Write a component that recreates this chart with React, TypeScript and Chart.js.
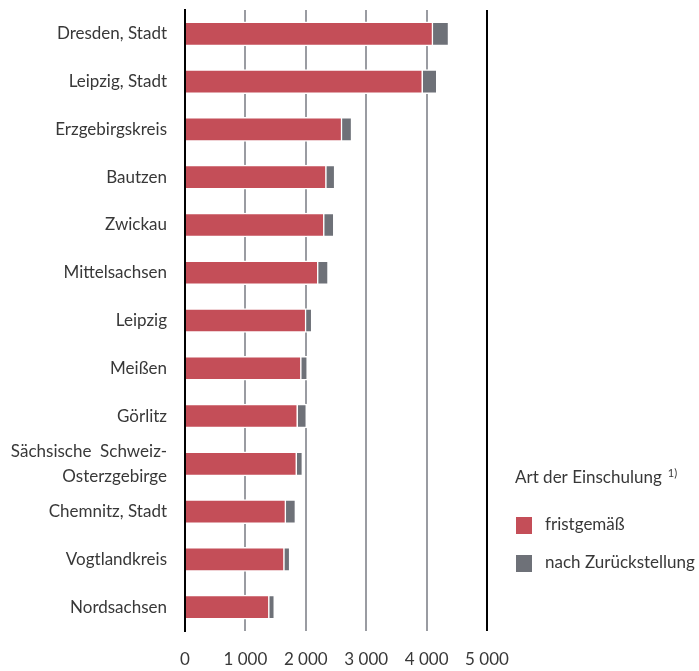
import React, { useEffect, useRef } from "react";
import { Chart, registerables } from "chart.js";

Chart.register(...registerables);

const categories: (string | string[])[] = [
  "Dresden, Stadt",
  "Leipzig, Stadt",
  "Erzgebirgskreis",
  "Bautzen",
  "Zwickau",
  "Mittelsachsen",
  "Leipzig",
  "Meißen",
  "Görlitz",
  ["Sächsische  Schweiz-", "Osterzgebirge"],
  "Chemnitz, Stadt",
  "Vogtlandkreis",
  "Nordsachsen",
];

const fristgemaess = [4105, 3935, 2600, 2340, 2305, 2205, 2005, 1925, 1865, 1850, 1670, 1645, 1395];
const nachZurueckstellung = [265, 240, 165, 145, 165, 170, 100, 105, 150, 100, 165, 95, 90];

const seriesLabels = ["fristgemäß", "nach Zurückstellung"];
const seriesColors = ["#c44e58", "#6e7178"];
const legendTitle = "Art der Einschulung";
const legendNote = "1)";
const xTickLabels = ["0", "1 000", "2 000", "3 000", "4 000", "5 000"];

const FONT = "Lato";
const TEXT = "#383838";

export default function App() {
  const ref = useRef<HTMLCanvasElement | null>(null);
  useEffect(() => {
    document.body.style.margin = "0";
    const canvas = ref.current!;
    const legendPlugin = {
      id: "customLegend",
      afterDraw(chart: any) {
        const ctx = chart.ctx;
        ctx.save();
        ctx.fillStyle = TEXT;
        ctx.textBaseline = "middle";
        ctx.textAlign = "left";
        ctx.font = `17px ${FONT}`;
        ctx.fillText(legendTitle, 515, 478);
        const w = ctx.measureText(legendTitle).width;
        ctx.font = `11px ${FONT}`;
        ctx.fillText(legendNote, 515 + w + 6, 473);
        seriesLabels.forEach((lab, i) => {
          const y = 525 + i * 38;
          ctx.fillStyle = seriesColors[i];
          ctx.fillRect(516, y - 8, 16, 17);
          ctx.fillStyle = TEXT;
          ctx.font = `17px ${FONT}`;
          ctx.fillText(lab, 545, y);
        });
        ctx.restore();
      },
    };
    const chart = new Chart(canvas, {
      type: "bar",
      data: {
        labels: categories,
        datasets: [
          {
            label: seriesLabels[0],
            data: fristgemaess,
            backgroundColor: seriesColors[0],
            borderColor: "#ffffff",
            borderWidth: 1.5,
            barThickness: 24,
          },
          {
            label: seriesLabels[1],
            data: nachZurueckstellung,
            backgroundColor: seriesColors[1],
            borderColor: "#ffffff",
            borderWidth: 1.5,
            barThickness: 24,
          },
        ],
      },
      options: {
        indexAxis: "y",
        animation: false,
        responsive: false,
        layout: { padding: { top: 10, right: 212, left: 0, bottom: 0 } },
        plugins: { legend: { display: false }, tooltip: { enabled: false } },
        scales: {
          x: {
            stacked: true,
            min: 0,
            max: 5000,
            afterFit: (s: any) => {
              s.height = 40;
              s.paddingLeft = 0;
              s.paddingRight = 0;
            },
            ticks: {
              stepSize: 1000,
              padding: 18,
              color: TEXT,
              font: { family: FONT, size: 17 },
              callback: (_v: any, i: number) => xTickLabels[i],
            },
            grid: {
              drawTicks: false,
              color: (c: any) =>
                c.tick && (c.tick.value === 5000 || c.tick.value === 0) ? "#000000" : "#9a9ca2",
              lineWidth: 2,
            },
            border: { display: false },
          },
          y: {
            stacked: true,
            afterFit: (s: any) => {
              s.width = 185;
              s.paddingTop = 0;
              s.paddingBottom = 0;
            },
            ticks: {
              autoSkip: false,
              padding: 18,
              color: TEXT,
              font: { family: FONT, size: 17, lineHeight: 1.45 },
            },
            grid: { display: false, drawTicks: false },
            border: { display: true, color: "#000000", width: 2 },
          },
        },
      },
      plugins: [legendPlugin],
    });
    return () => chart.destroy();
  }, []);
  return <canvas ref={ref} width={699} height={671} style={{ display: "block" }} />;
}
